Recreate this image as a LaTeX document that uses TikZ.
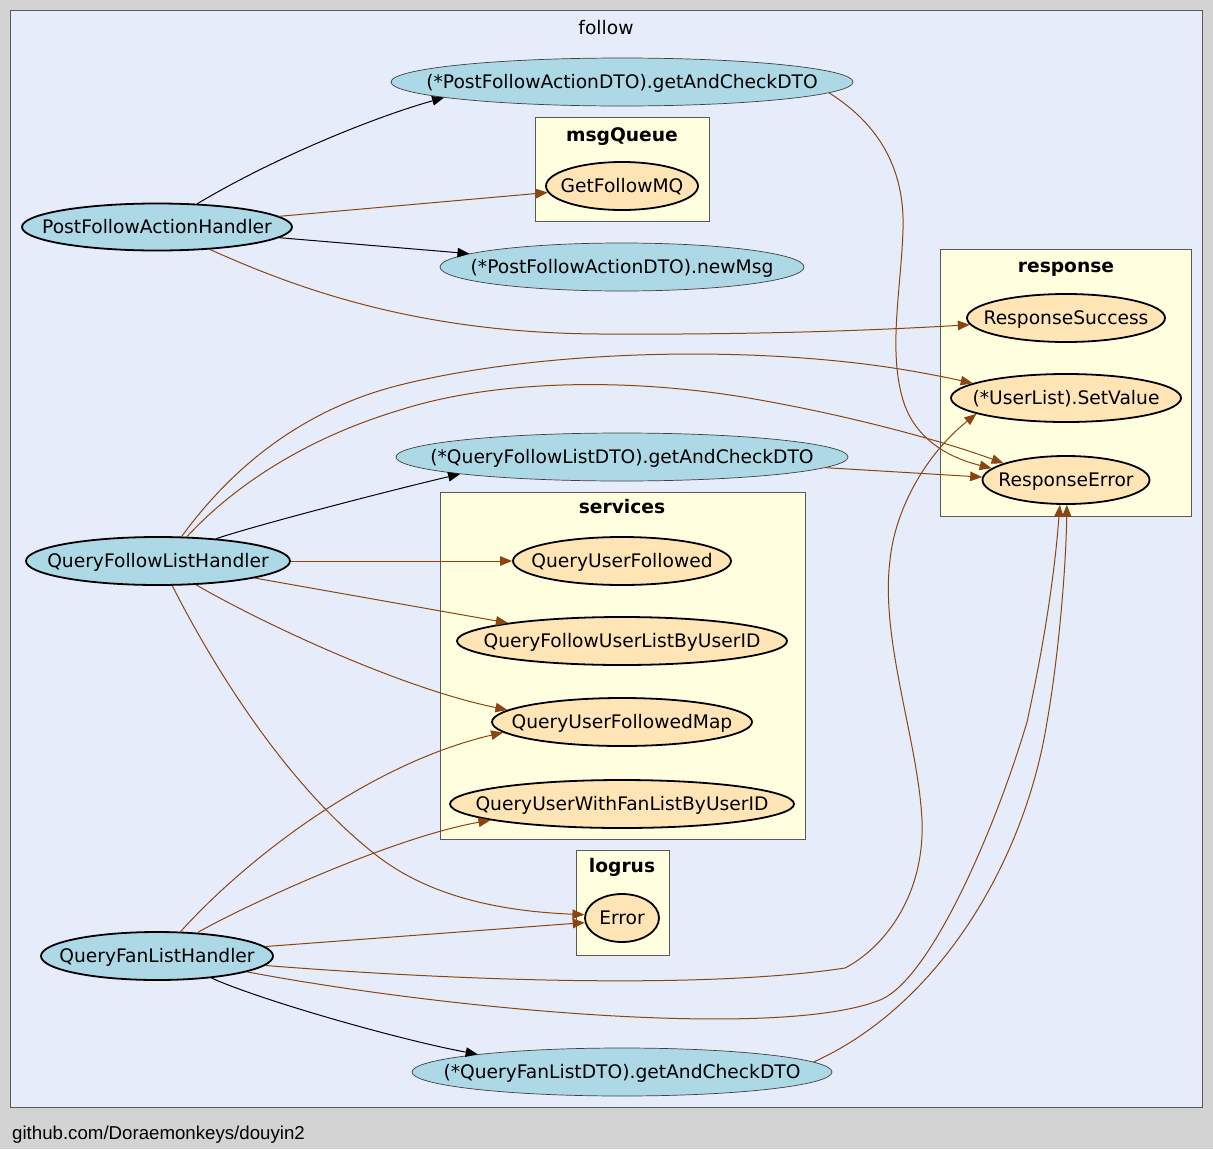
\documentclass[tikz,border=0pt]{standalone}
\usepackage{fontspec}
\setmainfont{DejaVu Sans}
\newfontfamily\footfont{Liberation Sans}
\usetikzlibrary{arrows.meta,shapes.geometric}
\definecolor{bgray}{HTML}{D3D3D3}
\definecolor{clfill}{HTML}{E6ECFA}
\definecolor{lyel}{HTML}{FFFFE0}
\definecolor{lblue}{HTML}{ADD8E6}
\definecolor{mocc}{HTML}{FFE4B5}
\definecolor{sbrown}{HTML}{8B4513}
\newcommand{\zb}[1]{\makebox[0pt][c]{#1}}
\begin{document}
\begin{tikzpicture}[x=1pt,y=-1pt,
  font=\fontsize{18.67}{22}\selectfont,
  fn/.style={ellipse, inner sep=0pt, text height=14pt, text depth=1.4pt, minimum height=48pt},
  hnd/.style={fn, fill=lblue, draw=black, line width=1.8pt},
  mth/.style={fn, fill=lblue, draw=black!75, line width=0.7pt},
  ext/.style={fn, fill=mocc, draw=black, line width=1.8pt},
  clus/.style={draw=black!65, fill=lyel, line width=1pt},
  ctitle/.style={anchor=base, font=\fontsize{18.67}{22}\selectfont\bfseries},
  call/.style={line width=1pt, draw=black, -{Triangle[length=12pt,width=9.5pt]}},
  ecall/.style={call, draw=sbrown, color=sbrown}]
\useasboundingbox (0,0) rectangle (1213,1149);
\fill[bgray] (0,0) rectangle (1213,1149);
\draw[fill=clfill, draw=black!65, line width=1pt] (10.5,10.5) rectangle (1202.5,1107.5);
\node[anchor=base] (ftitle) at (606,34) {follow};
% clusters
\draw[clus] (535.5,117.5) rectangle (709.5,221.5);
\node[ctitle] (tmq) at (622,141) {msgQueue};
\draw[clus] (940.5,249.5) rectangle (1191.5,516.5);
\node[ctitle] (tresp) at (1066,272) {response};
\draw[clus] (440.5,492.5) rectangle (805.5,839.5);
\node[ctitle] (tserv) at (622,513) {services};
\draw[clus] (576.5,850.5) rectangle (669.5,955.5);
\node[ctitle] (tlog) at (622,872) {logrus};
% nodes
\node[hnd, minimum width=270pt, minimum height=47pt] (PFAH) at (157,227) {\zb{PostFollowActionHandler}};
\node[mth, minimum width=462pt] (PDC) at (622,82) {\zb{(*PostFollowActionDTO).getAndCheckDTO}};
\node[ext, minimum width=152pt] (GFMQ) at (622,186) {\zb{GetFollowMQ}};
\node[mth, minimum width=364pt] (NM) at (622,267) {\zb{(*PostFollowActionDTO).newMsg}};
\node[ext, minimum width=198pt] (RS) at (1066,318) {\zb{ResponseSuccess}};
\node[ext, minimum width=230pt] (SV) at (1066,398) {\zb{(*UserList).SetValue}};
\node[ext, minimum width=167pt] (RE) at (1066,480) {\zb{ResponseError}};
\node[mth, minimum width=452pt] (QDC) at (622,457) {\zb{(*QueryFollowListDTO).getAndCheckDTO}};
\node[ext, minimum width=218pt] (QUF) at (622,561) {\zb{QueryUserFollowed}};
\node[ext, minimum width=330pt] (QFUL) at (622,641) {\zb{QueryFollowUserListByUserID}};
\node[ext, minimum width=260pt] (QUFM) at (622,722) {\zb{QueryUserFollowedMap}};
\node[ext, minimum width=344pt] (QUWF) at (622,804) {\zb{QueryUserWithFanListByUserID}};
\node[ext, minimum width=74pt] (ERR) at (622,918) {\zb{Error}};
\node[hnd, minimum width=264pt] (QFLH) at (158,561) {\zb{QueryFollowListHandler}};
\node[hnd, minimum width=232pt] (QFAN) at (157,956) {\zb{QueryFanListHandler}};
\node[mth, minimum width=420pt] (FDC) at (622,1072) {\zb{(*QueryFanListDTO).getAndCheckDTO}};
% edges from PostFollowActionHandler
\draw[call] (PFAH.30) .. controls (277,156) and (378,116) .. (PDC.185);
\draw[ecall] (PFAH.5) -- (GFMQ.185);
\draw[call] (PFAH.-5) -- (NM.175);
\draw[ecall] (PFAH.-23) .. controls (300,290) and (420,333) .. (600,334) .. controls (760,335) and (880,330) .. (RS.184);
\draw[ecall] (PDC.-3) .. controls (880,125) and (905,170) .. (903,230) .. controls (901,290) and (888,350) .. (903,400) .. controls (915,440) and (950,458) .. (RE.171);
% edges from QueryFollowListHandler
\draw[ecall] (QFLH.46) .. controls (230,470) and (300,410) .. (400,385) .. controls (520,355) and (700,345) .. (856,363) .. controls (900,368) and (940,376) .. (SV.171);
\draw[ecall] (QFLH.40) .. controls (230,490) and (300,440) .. (400,410) .. controls (500,378) and (640,378) .. (760,400) .. controls (850,416) and (940,440) .. (RE.165);
\draw[call] (QFLH.21) .. controls (260,524) and (400,488) .. (QDC.186);
\draw[ecall] (QDC.-3) -- (RE.178);
\draw[ecall] (QFLH) -- (QUF);
\draw[ecall] (QFLH.-10) -- (QFUL.171);
\draw[ecall] (QFLH.-32) .. controls (260,622) and (400,688) .. (QUFM.174);
\draw[ecall] (QFLH.-60) .. controls (215,670) and (290,790) .. (380,858) .. controls (440,903) and (520,912) .. (ERR.175);
% edges from QueryFanListHandler
\draw[ecall] (QFAN.46) .. controls (250,855) and (372,763) .. (QUFM.185);
\draw[ecall] (QFAN.30) .. controls (240,908) and (390,838) .. (QUWF.187);
\draw[ecall] (QFAN.5) -- (ERR.187);
\draw[ecall] (QFAN.-5) .. controls (450,980) and (700,990) .. (845,968) .. controls (880,950) and (925,900) .. (922,820) .. controls (918,740) and (880,640) .. (890,560) .. controls (895,510) and (925,455) .. (SV.190);
\draw[ecall] (QFAN.-10) .. controls (450,1010) and (780,1040) .. (880,1000) .. controls (930,980) and (995,830) .. (1027,722) .. controls (1045,640) and (1055,570) .. (RE.256);
\draw[call] (QFAN.-22) .. controls (260,1000) and (400,1040) .. (FDC.173);
\draw[ecall] (FDC.3) .. controls (940,1005) and (1025,860) .. (1047,722) .. controls (1058,660) and (1066,570) .. (RE.-88);
% footer
\node[anchor=base west, font=\footfont\fontsize{18.67}{22}\selectfont, inner sep=0pt] (foot) at (12,1139) {github.com/Doraemonkeys/douyin2};
\end{tikzpicture}
\end{document}
